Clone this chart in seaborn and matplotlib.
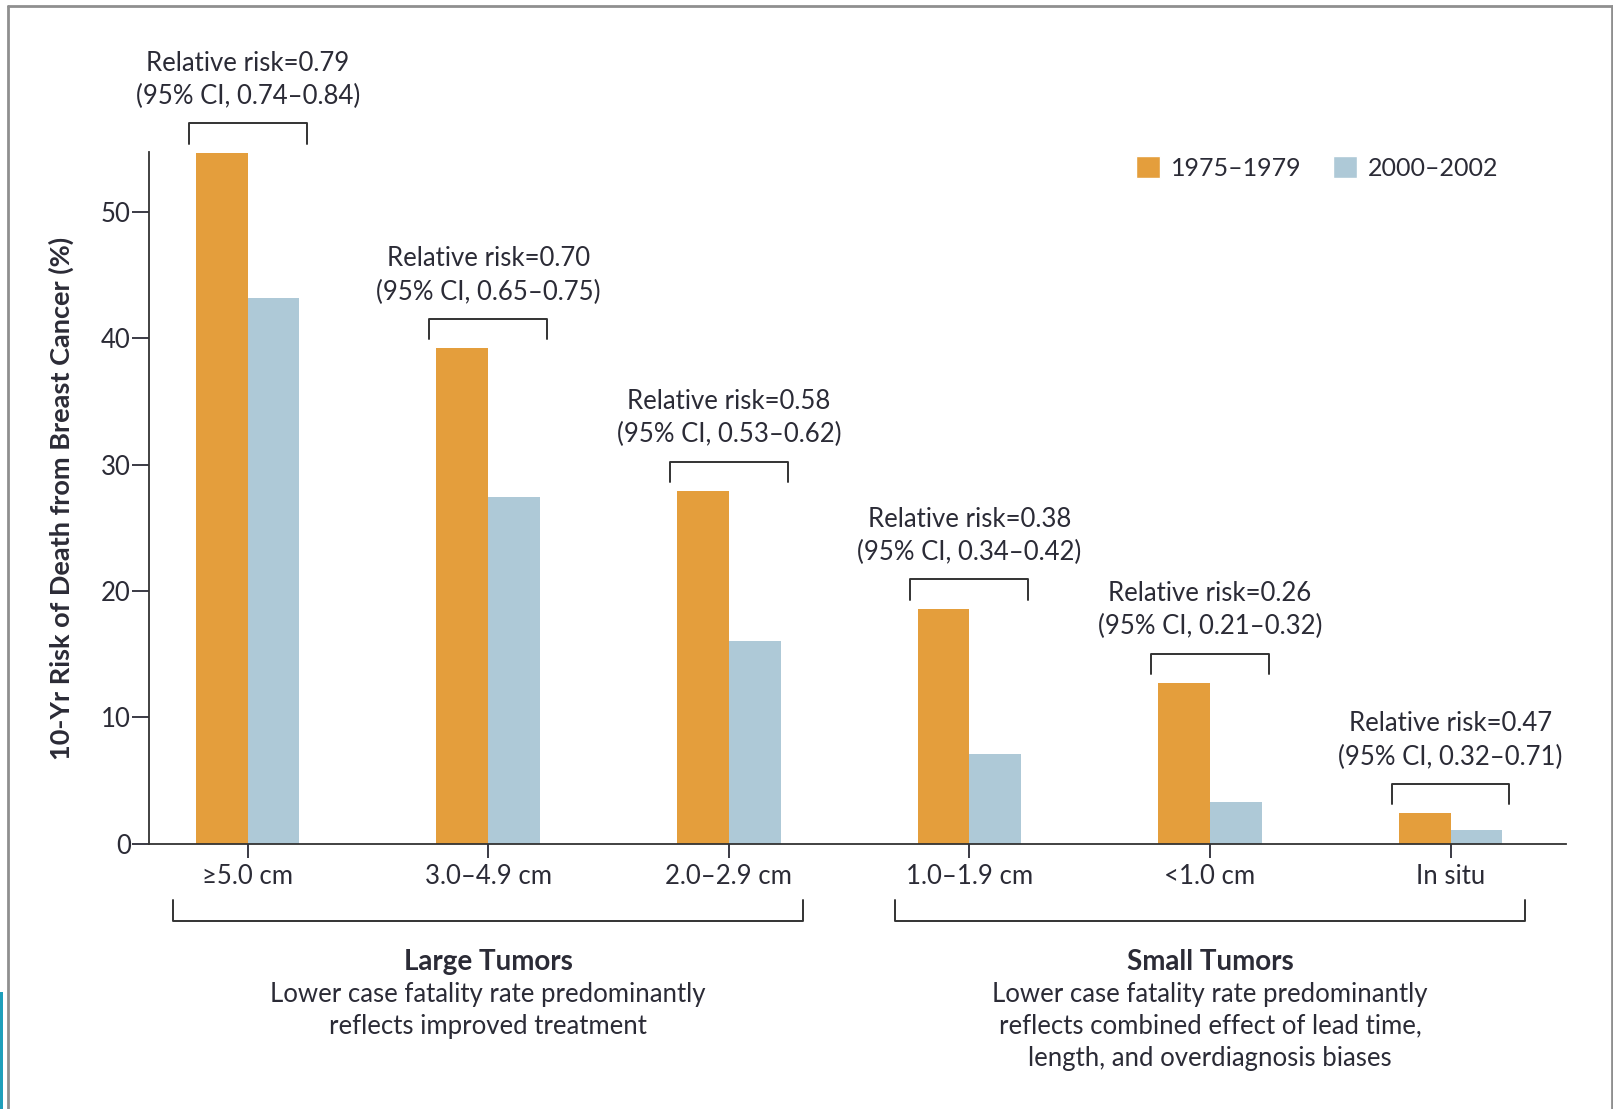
import pandas as pd
import matplotlib.pyplot as plt
import seaborn as sns
from matplotlib.patches import Patch, Rectangle
from matplotlib.lines import Line2D

sns.set_theme(style="ticks")
plt.rcParams['font.family'] = ['Lato', 'DejaVu Sans']
plt.rcParams['text.color'] = '#2b2b36'

# Datos
tamanos = ['≥5.0 cm', '3.0–4.9 cm', '2.0–2.9 cm', '1.0–1.9 cm', '<1.0 cm', 'In situ']
riesgo_1975 = [54.7, 39.2, 27.9, 18.6, 12.7, 2.4]
riesgo_2000 = [43.2, 27.4, 16.0, 7.1, 3.3, 1.1]
periodos = ['1975–1979', '2000–2002']
rr_texto = ['Relative risk=0.79', 'Relative risk=0.70', 'Relative risk=0.58',
            'Relative risk=0.38', 'Relative risk=0.26', 'Relative risk=0.47']
ic_texto = ['(95% CI, 0.74–0.84)', '(95% CI, 0.65–0.75)', '(95% CI, 0.53–0.62)',
            '(95% CI, 0.34–0.42)', '(95% CI, 0.21–0.32)', '(95% CI, 0.32–0.71)']
grupos = ['Large Tumors', 'Small Tumors']
grupo_centro = [1, 4]
grupo_lineas = [['Lower case fatality rate predominantly', 'reflects improved treatment'],
                ['Lower case fatality rate predominantly', 'reflects combined effect of lead time,',
                 'length, and overdiagnosis biases']]

colores = ['#E49E3C', '#AEC9D7']
oscuro = '#2b2b36'
fs = 18.5

df = pd.DataFrame({
    'tamano': tamanos * 2,
    'riesgo': riesgo_1975 + riesgo_2000,
    'periodo': [periodos[0]] * 6 + [periodos[1]] * 6,
})

W, H = 1613, 1109
fig = plt.figure(figsize=(W / 100, H / 100), dpi=100)
ax = fig.add_axes([149 / W, 1 - 843.5 / H, (1566 - 149) / W, (843.5 - 152.5) / H])

sns.barplot(data=df, x='tamano', y='riesgo', hue='periodo', palette=colores,
            width=0.43, dodge=True, legend=False, ax=ax, saturation=1, linewidth=0)

ax.set_xlim(-0.41, 5.48)
ax.set_ylim(0, 54.7)
ax.set_yticks(range(0, 51, 10))
ax.set_xlabel('')
ax.set_ylabel('10-Yr Risk of Death from Breast Cancer (%)', fontsize=19.5, fontweight='bold',
              color=oscuro)
ax.yaxis.set_label_coords(-0.053, 0.5)
ax.tick_params(axis='y', length=12, width=1.3, pad=1, labelsize=fs, colors=oscuro)
ax.tick_params(axis='x', length=10, width=1.3, pad=5, labelsize=fs, colors=oscuro)
sns.despine(ax=ax)
for s in ['left', 'bottom']:
    ax.spines[s].set_linewidth(1.3)
    ax.spines[s].set_color('#333333')

# Corchetes y textos de riesgo relativo
for i, v in enumerate(riesgo_1975):
    yb = v + 2.3
    ax.plot([i - 0.245, i - 0.245, i + 0.245, i + 0.245], [yb - 1.6, yb, yb, yb - 1.6],
            color='#333333', lw=1.4, clip_on=False)
    ax.annotate(ic_texto[i], xy=(i, yb), xytext=(0, 19.5), textcoords='offset points',
                ha='center', va='center', fontsize=fs, annotation_clip=False)
    ax.annotate(rr_texto[i], xy=(i, yb), xytext=(0, 43.5), textcoords='offset points',
                ha='center', va='center', fontsize=fs, annotation_clip=False)

# Corchetes inferiores por grupo
for g, c in enumerate(grupo_centro):
    ax.plot([c - 1.31, c - 1.31, c + 1.31, c + 1.31], [-4.47, -6.11, -6.11, -4.47],
            color='#333333', lw=1.4, clip_on=False)
    ax.annotate(grupos[g], xy=(c, -6.11), xytext=(0, -29.5), textcoords='offset points',
                ha='center', va='center', fontsize=20, fontweight='bold', annotation_clip=False)
    for k, linea in enumerate(grupo_lineas[g]):
        ax.annotate(linea, xy=(c, -6.11), xytext=(0, -53 - 23 * k), textcoords='offset points',
                    ha='center', va='center', fontsize=fs, annotation_clip=False)

# Leyenda
handles = [Patch(facecolor=colores[0], label=periodos[0]),
           Patch(facecolor=colores[1], label=periodos[1])]
fig.legend(handles=handles, loc='center left', bbox_to_anchor=(1136 / W, 1 - 168 / H),
           ncol=2, frameon=False, fontsize=18, handlelength=0.95, handleheight=0.95,
           handletextpad=0.45, columnspacing=1.25, borderpad=0, borderaxespad=0)

# Marco de la figura
marco = '#8f8f8f'
fig.add_artist(Line2D([8 / W, 8 / W], [0, 1 - 6 / H], color=marco, lw=2))
fig.add_artist(Line2D([8 / W, 1612 / W], [1 - 6 / H, 1 - 6 / H], color=marco, lw=2))
fig.add_artist(Line2D([1611.5 / W, 1611.5 / W], [0, 1 - 6 / H], color=marco, lw=2))
fig.add_artist(Rectangle((0, 0), 3 / W, 117 / H, transform=fig.transFigure,
                         facecolor='#1f9fbb', edgecolor='none'))

plt.savefig('out.png', dpi=100)
plt.close()
